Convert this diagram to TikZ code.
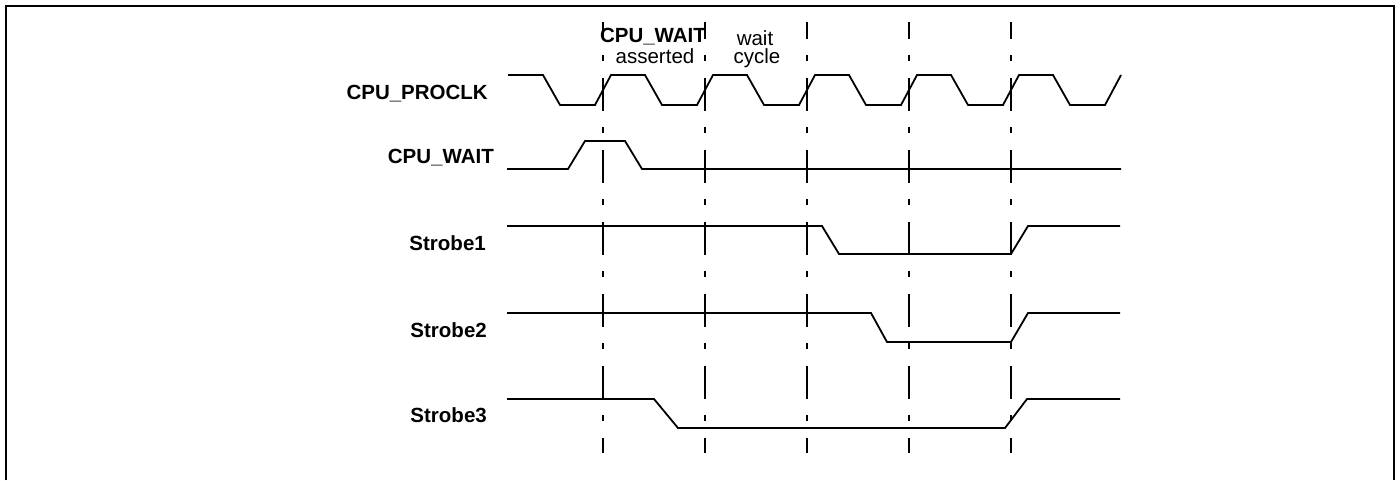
\documentclass[tikz,border=0pt]{standalone}
\usepackage{fontspec}
\setmainfont{Liberation Sans}
\usepackage{tikz}
\usetikzlibrary{positioning, calc}
\usepackage{xcolor}
\definecolor{WaveBlack}{HTML}{000000}
\tikzset{
    % Signal names on the left
    signal label/.style={
        anchor=base east,
        inner sep=0pt,
        text=WaveBlack,
        font=\fontsize{20.5}{24}\selectfont\bfseries
    },
    % Notes above the cycle markers
    note text/.style={
        anchor=base,
        inner sep=0pt,
        text=WaveBlack,
        font=\fontsize{20.5}{24}\selectfont
    },
    note bold/.style={
        note text,
        font=\fontsize{20.5}{24}\selectfont\bfseries
    },
    % Waveforms
    wave style/.style={
        draw=WaveBlack,
        line width=1.8pt,
        line join=miter
    },
    % Cycle markers
    marker style/.style={
        draw=WaveBlack,
        line width=2pt,
        dash pattern=on 33pt off 16pt on 6pt off 17pt,
        dash phase=16pt
    },
    frame style/.style={
        draw=WaveBlack,
        line width=2.2pt
    }
}

\begin{document}
\begin{tikzpicture}[x=1pt, y=-1pt]
        \useasboundingbox (0,0) rectangle (1400,480);

        % Frame (open at the bottom)
        \draw[frame style] (6,480) -- (6,6) -- (1394,6) -- (1394,480);

        % Notes
        \node[note bold] (note-wait) at (653,42) {CPU\_WAIT};
        \node[note text] (note-asserted) at (655,63) {asserted};
        \node[note text] (note-wait2) at (755,45) {wait};
        \node[note text] (note-cycle) at (757,63) {cycle};

        % Cycle markers
        \draw[marker style] (603,22) -- (603,453);
        \draw[marker style] (705,22) -- (705,453);
        \draw[marker style] (807,22) -- (807,453);
        \draw[marker style] (909,22) -- (909,453);
        \draw[marker style] (1011,22) -- (1011,453);

        % Signal names
        \node[signal label] (lbl-proclk) at (488,99) {CPU\_PROCLK};
        \node[signal label] (lbl-wait) at (494,163) {CPU\_WAIT};
        \node[signal label] (lbl-strobe1) at (486,250) {Strobe1};
        \node[signal label] (lbl-strobe2) at (487,337) {Strobe2};
        \node[signal label] (lbl-strobe3) at (487,422) {Strobe3};

        % CPU_PROCLK
        \draw[wave style] (508,75) -- (543,75) -- (560,105) -- (595,105) -- (611,75)
            -- (645,75) -- (662,105) -- (697,105) -- (713,75)
            -- (747,75) -- (764,105) -- (799,105) -- (815,75)
            -- (849,75) -- (866,105) -- (901,105) -- (917,75)
            -- (951,75) -- (968,105) -- (1003,105) -- (1019,75)
            -- (1053,75) -- (1070,105) -- (1105,105) -- (1121,75);

        % CPU_WAIT
        \draw[wave style] (507,169) -- (568,169) -- (585,141) -- (625,141) -- (642,169) -- (1121,169);

        % Strobes
        \draw[wave style] (507,226) -- (822,226) -- (839,254) -- (1011,254) -- (1028,226) -- (1120,226);
        \draw[wave style] (507,313) -- (871,313) -- (887,342) -- (1011,342) -- (1028,313) -- (1120,313);
        \draw[wave style] (507,399) -- (654,399) -- (678,428) -- (1005,428) -- (1027,399) -- (1120,399);
    \end{tikzpicture}
\end{document}
